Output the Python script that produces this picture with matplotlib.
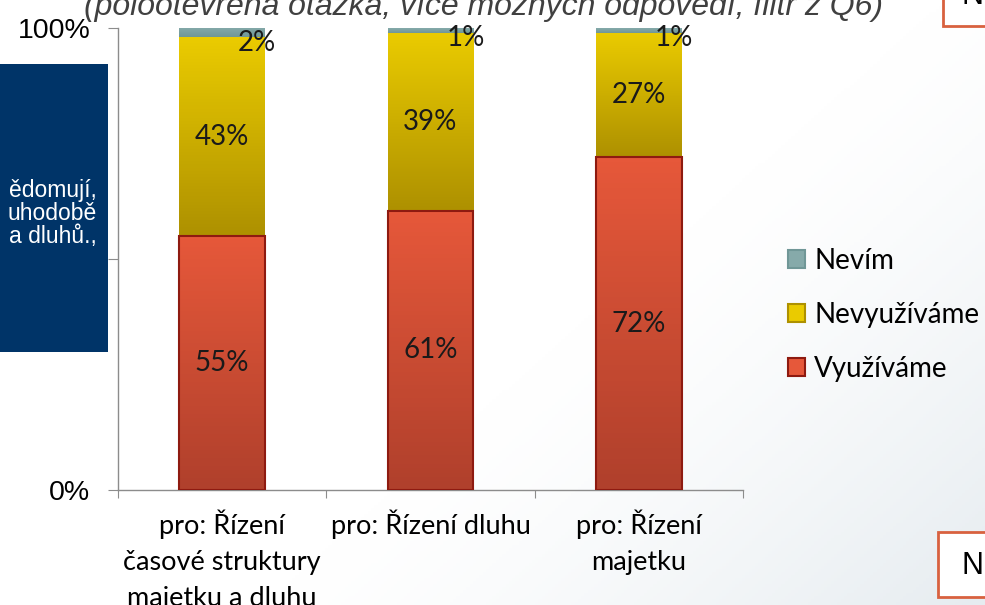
import matplotlib
matplotlib.use("Agg")
import matplotlib.pyplot as plt
import numpy as np
from matplotlib.colors import LinearSegmentedColormap
from matplotlib.patches import Rectangle

# --- data --------------------------------------------------------------------
categories = ["pro: Řízení\nčasové struktury\nmajetku a dluhu",
              "pro: Řízení dluhu",
              "pro: Řízení\nmajetku"]
vyuzivame = [55, 61, 72]
nevyuzivame = [43, 39, 27]
nevim = [2, 1, 1]
series_names = ["Využíváme", "Nevyužíváme", "Nevím"]
y_ticks = [0, 0.5, 1.0]
y_ticklabels = ["0%", "", "100%"]
title = "(polootevřená otázka, více možných odpovědí, filtr z Q6)"
box_lines = ["ědomují,", "uhodobě", "a dluhů.,"]

SANS = ["Liberation Sans", "DejaVu Sans"]
CAL = ["Lato", "DejaVu Sans"]

# gradients (top colour, bottom colour) per series
GRAD = {
    "Využíváme": ("#E6583A", "#B0402C"),
    "Nevyužíváme": ("#EACB00", "#AE9100"),
    "Nevím": ("#86AAAA", "#709797"),
}
EDGE = {"Využíváme": "#8E1A10", "Nevyužíváme": "none", "Nevím": "none"}


def gradient_fill(ax, patch, top, bottom):
    x0, y0 = patch.get_x(), patch.get_y()
    w, h = patch.get_width(), patch.get_height()
    cmap = LinearSegmentedColormap.from_list("g", [bottom, top])
    grad = np.linspace(0, 1, 64).reshape(-1, 1)
    im = ax.imshow(grad, cmap=cmap, aspect="auto", origin="lower",
                   extent=(x0, x0 + w, y0, y0 + h), zorder=patch.get_zorder() - 0.1)
    im.set_clip_path(patch)


fig = plt.figure(figsize=(9.85, 6.05), dpi=100)
fig.patch.set_facecolor("white")

# faint slide background: white, fading to a pale blue-grey at the lower right
bg = fig.add_axes([0, 0, 1, 1], zorder=-10)
yy, xx = np.mgrid[0:1:200j, 0:1:300j]
shade = np.clip((xx - 0.6) * 1.3 + (0.5 - yy) * 0.9, 0, 1) ** 1.4
bg_cmap = LinearSegmentedColormap.from_list("bg", ["#FFFFFF", "#E6ECF0"])
bg.imshow(shade, cmap=bg_cmap, aspect="auto", origin="lower", extent=(0, 1, 0, 1))
bg.set_xlim(0, 1); bg.set_ylim(0, 1); bg.axis("off")

# navy text box on the left (cut by the slide crop)
fig.patches.append(Rectangle((0, 1 - 352 / 605), 108 / 985, (352 - 64) / 605,
                             transform=fig.transFigure, facecolor="#003468",
                             edgecolor="none", zorder=1))
for i, line in enumerate(box_lines):
    fig.text(97 / 985, 1 - (190 + 23 * i) / 605, line, ha="right", va="center",
             color="white", fontsize=16.5, family=SANS, zorder=2)

# framed boxes on the right edge (cut off)
for (x, y, w, h, letter, ty) in [(943, -30, 80, 56, "N", -4), (938, 532, 80, 65, "N", 566)]:
    fig.patches.append(Rectangle((x / 985, 1 - (y + h) / 605), w / 985, h / 605,
                                 transform=fig.transFigure, facecolor="white",
                                 edgecolor="#D8613F", linewidth=2, zorder=1))
    fig.text(961 / 985, 1 - ty / 605, letter, ha="left", va="center",
             fontsize=22, family=SANS, color="black", zorder=2)

fig.text(484 / 985, 1 - 15 / 605, title, ha="center", va="baseline", style="italic",
         fontsize=23, family=SANS, color="#404040")

# --- chart --------------------------------------------------------------------
ax = fig.add_axes([118 / 985, 1 - 490 / 605, (743 - 118) / 985, (490 - 28) / 605])
ax.patch.set_alpha(0)

x = np.arange(len(categories))
totals = np.array(vyuzivame) + np.array(nevyuzivame) + np.array(nevim)
bottom = np.zeros(len(categories))
handles = []
for name, vals in zip(series_names, [vyuzivame, nevyuzivame, nevim]):
    frac = np.array(vals) / totals
    top_c, bot_c = GRAD[name]
    bars = ax.bar(x, frac, width=0.41, bottom=bottom, facecolor="none",
                  edgecolor=EDGE[name], linewidth=1.5, zorder=3)
    for p in bars:
        gradient_fill(ax, p, top_c, bot_c)
    handles.append(bars)
    for xi, b, f, v in zip(x, bottom, frac, vals):
        if f > 0.05:
            ax.text(xi, b + f / 2, f"{v}%", ha="center", va="center",
                    fontsize=20, family=CAL, color="#1A1A1A", zorder=5)
        else:
            ax.annotate(f"{v}%", (xi + 0.168, b), xytext=(0, -4),
                        textcoords="offset points", ha="center", va="center",
                        fontsize=20, family=CAL, color="#1A1A1A", zorder=5)
    bottom = bottom + frac

ax.set_xlim(-0.5, 2.5)
ax.set_ylim(0, 1)
for s in ["top", "right"]:
    ax.spines[s].set_visible(False)
for s in ["left", "bottom"]:
    ax.spines[s].set_color("#8C8C8C")
    ax.spines[s].set_linewidth(1)

ax.set_yticks(y_ticks)
ax.set_yticklabels(y_ticklabels, family=SANS, fontsize=20.5)
ax.tick_params(axis="y", length=7, color="#8C8C8C", pad=13)
ax.set_xticks([-0.5, 0.5, 1.5, 2.5])
ax.set_xticklabels([])
ax.tick_params(axis="x", which="major", length=6, color="#8C8C8C")
ax.set_xticks(x, minor=True)
ax.set_xticklabels(categories, minor=True, family=CAL, fontsize=19.5, linespacing=1.56)
ax.tick_params(axis="x", which="minor", length=0, pad=14)

leg = ax.legend(handles[::-1], series_names[::-1], loc="upper left",
                bbox_to_anchor=(763 / 985, 1 - 223 / 605), bbox_transform=fig.transFigure,
                frameon=False, handlelength=0.6, handleheight=0.6, handletextpad=0.35,
                labelspacing=1.0, prop={"family": CAL, "size": 20})
for h, name in zip(leg.legend_handles, series_names[::-1]):
    h.set_facecolor(GRAD[name][0])
    if EDGE[name] == "none":
        h.set_edgecolor(GRAD[name][1])

fig.savefig("out.png", dpi=100)
